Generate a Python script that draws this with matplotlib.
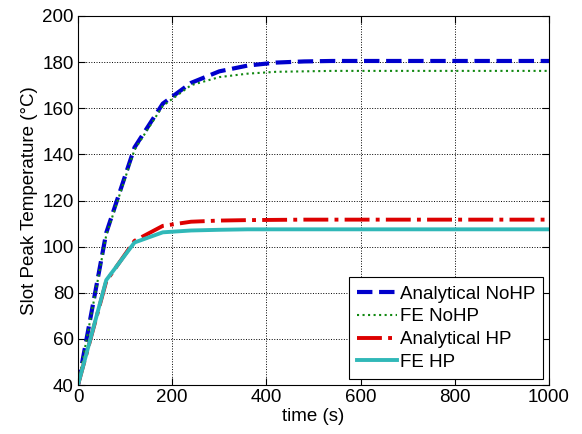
import numpy as np
import matplotlib.pyplot as plt

plt.rcParams['font.family'] = ['Liberation Sans', 'DejaVu Sans']

# time samples (s)
t = [0, 60, 120, 180, 240, 300, 360, 420, 480, 540, 600, 700, 800, 900, 1000]

# slot peak temperatures (degC)
analytical_nohp = [40, 106, 143, 162, 171, 176, 178.5, 179.8, 180.3, 180.5, 180.5, 180.5, 180.5, 180.5, 180.5]
fe_nohp = [40, 105, 142, 161, 170, 173.5, 175, 175.8, 176, 176.2, 176.2, 176.2, 176.2, 176.2, 176.2]
analytical_hp = [40, 85, 102.5, 109, 110.8, 111.3, 111.5, 111.6, 111.7, 111.7, 111.7, 111.7, 111.7, 111.7, 111.7]
fe_hp = [40, 85.5, 101.8, 106.2, 107, 107.3, 107.5, 107.5, 107.5, 107.5, 107.5, 107.5, 107.5, 107.5, 107.5]

fig = plt.figure(figsize=(5.82, 4.34), dpi=100)
ax = fig.add_axes([78 / 582, 1 - 385 / 434, 471 / 582, 369 / 434])

ax.plot(t, analytical_nohp, '--', color='#0000cc', linewidth=3, label='Analytical NoHP')
ax.plot(t, fe_nohp, ':', color='#118811', linewidth=1.5, label='FE NoHP')
ax.plot(t, analytical_hp, '-.', color='#dd0000', linewidth=2.8, label='Analytical HP')
ax.plot(t, fe_hp, '-', color='#30b8b8', linewidth=2.8, label='FE HP')

ax.set_xlim(0, 1000)
ax.set_ylim(40, 200)
ax.set_xticks(np.arange(0, 1001, 200))
ax.set_yticks(np.arange(40, 201, 20))
ax.tick_params(direction='in', top=True, right=True, labelsize=13.5, length=5, pad=3)
ax.grid(color='black', linestyle=':', linewidth=0.7)
ax.set_xlabel('time (s)', fontsize=13.5, labelpad=1)
ax.set_ylabel('Slot Peak Temperature (°C)', fontsize=13.5, labelpad=3)

leg = ax.legend(loc='lower right', fontsize=13.5, fancybox=False, framealpha=1,
                edgecolor='black', handlelength=2.1, handletextpad=0.15,
                labelspacing=0.3, borderpad=0.45, borderaxespad=0.3)
leg.get_frame().set_linewidth(0.8)

fig.savefig('out.png', dpi=100)
